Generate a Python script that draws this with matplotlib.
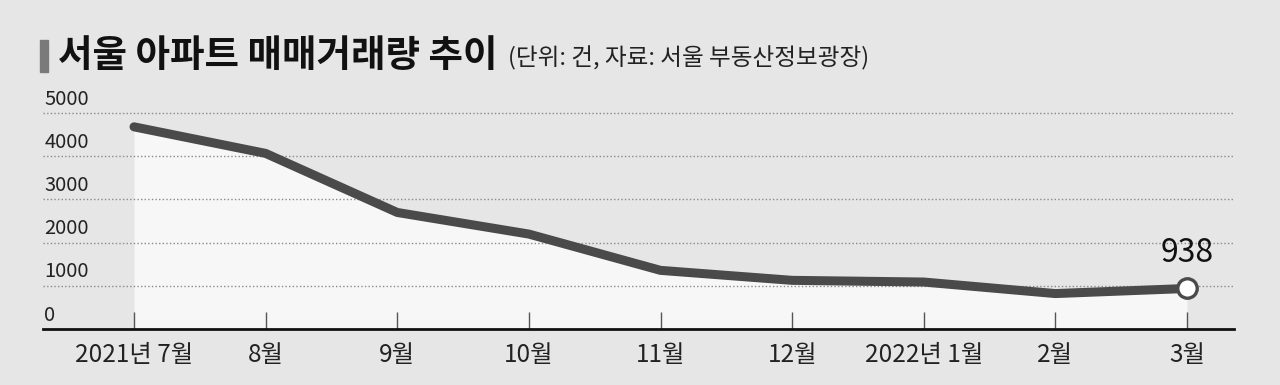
import matplotlib
matplotlib.use("Agg")
import matplotlib.pyplot as plt
import matplotlib.transforms as mtransforms
from matplotlib.patches import Rectangle

plt.rcParams['font.family'] = ['Noto Sans CJK KR', 'DejaVu Sans']

# data (Seoul apartment sales, cases)
months = ['2021년 7월', '8월', '9월', '10월', '11월', '12월', '2022년 1월', '2월', '3월']
volume = [4679, 4064, 2697, 2197, 1357, 1126, 1087, 820, 938]
yticks = [0, 1000, 2000, 3000, 4000, 5000]

bg = '#e6e6e6'
line_c = '#4a4a4a'

fig = plt.figure(figsize=(12.8, 3.85), dpi=100, facecolor=bg)
ax = fig.add_axes([43/1280, 56/385, (1234-43)/1280, 229/385])
ax.set_facecolor(bg)

x = list(range(len(months)))
ax.set_xlim(-(134-43)/131.6, len(months)-1 + (1234-1187)/131.6)
ax.set_ylim(0, 5300)

# light fill under the line
ax.fill_between(x, volume, 0, color='#f7f7f7', zorder=1, lw=0)

# dotted grid
for v in yticks[1:]:
    ax.axhline(v, color='#8a8a8a', lw=1, ls=(0, (1, 1.6)), zorder=2)

ax.plot(x, volume, color=line_c, lw=6.5, solid_capstyle='round',
        solid_joinstyle='round', zorder=3)
ax.plot(x[-1], volume[-1], 'o', ms=14, mfc='white', mec=line_c, mew=2.4, zorder=4)
ax.text(x[-1], volume[-1] + 450, f'{volume[-1]}', ha='center', va='bottom',
        fontsize=23, color='#111111', zorder=5)

# y labels above gridlines at left
trans = mtransforms.blended_transform_factory(ax.transAxes, ax.transData)
for v in yticks:
    ax.text(0.001, v + 80, str(v), transform=trans, ha='left', va='bottom',
            fontsize=14.5, color='#222222')
ax.set_yticks([])

ax.set_xticks(x)
ax.set_xticklabels(months, fontsize=17.5, color='#222222')
ax.tick_params(axis='x', direction='in', length=12, width=1, color='#555555', pad=9)

for s in ['top', 'right', 'left']:
    ax.spines[s].set_visible(False)
ax.spines['bottom'].set_color('#111111')
ax.spines['bottom'].set_linewidth(2)

# title
fig.patches.append(Rectangle((40/1280, 1-72/385), 8/1280, 32/385,
                             transform=fig.transFigure, color='#7a7a7a'))
fig.text(58/1280, 1-55/385, '서울 아파트 매매거래량 추이', fontsize=27,
         fontweight='black', color='#111111', va='center', ha='left')
fig.text(508/1280, 1-58/385, '(단위: 건, 자료: 서울 부동산정보광장)', fontsize=17,
         color='#222222', va='center', ha='left')

fig.savefig('out.png', dpi=100, facecolor=bg)
